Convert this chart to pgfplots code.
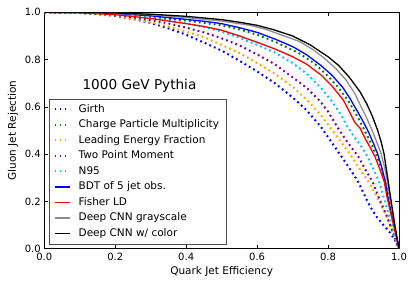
\documentclass[border=0pt]{standalone}
\usepackage{pgfplots}
\pgfplotsset{compat=1.18}
\usepackage{fontspec}
\setmainfont{DejaVu Sans}
\definecolor{mplgreen}{rgb}{0,0.5,0}
\definecolor{mplorange}{rgb}{1,0.647,0}
\definecolor{mplpurple}{rgb}{0.5,0,0.5}
\definecolor{mplsky}{rgb}{0,0.75,1}
\begin{document}
\begin{tikzpicture}
\path[use as bounding box] (-44.3pt,-38.3pt) rectangle (370.7pt,248.7pt);
\begin{axis}[
  scale only axis,
  width=354.7pt, height=236.4pt,
  xmin=0, xmax=1, ymin=0, ymax=1,
  xtick={0,0.2,0.4,0.6,0.8,1.0},
  ytick={0,0.2,0.4,0.6,0.8,1.0},
  /pgf/number format/assume math mode=true,
  /pgf/number format/.cd, fixed, fixed zerofill, precision=1,
  /pgfplots/.cd,
  tick align=inside,
  major tick length=4pt,
  tick style={black, line width=0.6pt},
  axis line style={line width=0.8pt},
  ticklabel style={font=\fontsize{10}{12}\selectfont},
  xticklabel style={yshift=-1pt},
  label style={font=\fontsize{10.5}{12}\selectfont},
  xlabel={Quark Jet Efficiency},
  ylabel={Gluon Jet Rejection},
  xlabel style={yshift=1pt},
  ylabel style={yshift=0pt},
  legend cell align=left,
  legend style={at={(0.014,0.0186)}, anchor=south west, draw=black!70, line width=0.8pt,
    font=\fontsize{10.5}{12}\selectfont, row sep=2.2pt, inner xsep=4pt, inner ysep=3.85pt,
    nodes={inner xsep=3.5pt, inner ysep=1.5pt, text height=7.8pt, text depth=2.5pt},
    /tikz/every odd column/.append style={column sep=4.5pt}},
  legend image code/.code={\draw[#1] (0pt,0pt) -- (15pt,0pt);},
  dotline/.style={line width=2pt, dash pattern=on 1.8pt off 3.2pt},
  solline/.style={line width=1.3pt},
]
\addplot[dotline, color=blue] coordinates {(0,1) (0.05,0.9995) (0.1,0.997) (0.15,0.992) (0.2,0.985) (0.25,0.972) (0.3,0.955) (0.35,0.932) (0.4,0.905) (0.45,0.872) (0.5,0.838) (0.55,0.795) (0.6,0.75) (0.65,0.70) (0.7,0.64) (0.74,0.585) (0.78,0.515) (0.81,0.45) (0.84,0.385) (0.865,0.33) (0.886,0.28) (0.90,0.235) (0.918,0.18) (0.937,0.135) (0.956,0.10) (0.975,0.068) (0.989,0.035) (1,0)};
\addlegendentry{Girth}
\addplot[dotline, color=mplgreen] coordinates {(0,1) (0.1,0.998) (0.2,0.993) (0.3,0.981) (0.4,0.965) (0.5,0.945) (0.55,0.928) (0.6,0.905) (0.65,0.876) (0.7,0.84) (0.72,0.825) (0.76,0.785) (0.8,0.73) (0.83,0.68) (0.855,0.63) (0.875,0.58) (0.893,0.53) (0.91,0.48) (0.926,0.43) (0.946,0.36) (0.958,0.30) (0.968,0.24) (0.975,0.19) (0.985,0.12) (0.993,0.06) (1,0)};
\addlegendentry{Charge Particle Multiplicity}
\addplot[dotline, color=mplorange] coordinates {(0,1) (0.1,0.997) (0.2,0.987) (0.3,0.958) (0.35,0.94) (0.4,0.918) (0.45,0.895) (0.5,0.862) (0.55,0.828) (0.6,0.785) (0.65,0.74) (0.7,0.685) (0.74,0.63) (0.78,0.565) (0.81,0.505) (0.84,0.445) (0.862,0.40) (0.89,0.335) (0.913,0.285) (0.93,0.24) (0.945,0.2) (0.965,0.135) (0.985,0.06) (1,0)};
\addlegendentry{Leading Energy Fraction}
\addplot[dotline, color=mplpurple] coordinates {(0,1) (0.1,0.998) (0.2,0.99) (0.3,0.967) (0.35,0.953) (0.4,0.935) (0.45,0.915) (0.5,0.89) (0.55,0.86) (0.6,0.822) (0.65,0.78) (0.7,0.725) (0.74,0.68) (0.777,0.625) (0.80,0.58) (0.828,0.51) (0.855,0.45) (0.885,0.39) (0.905,0.335) (0.923,0.29) (0.946,0.206) (0.965,0.14) (0.985,0.06) (1,0)};
\addlegendentry{Two Point Moment}
\addplot[dotline, color=mplsky] coordinates {(0,1) (0.1,0.999) (0.2,0.993) (0.3,0.977) (0.4,0.953) (0.45,0.938) (0.5,0.918) (0.55,0.893) (0.6,0.862) (0.65,0.83) (0.7,0.785) (0.74,0.74) (0.78,0.68) (0.81,0.625) (0.835,0.57) (0.853,0.52) (0.875,0.47) (0.895,0.43) (0.913,0.385) (0.93,0.33) (0.945,0.28) (0.958,0.21) (0.975,0.125) (0.99,0.05) (1,0)};
\addlegendentry{N95}
\addplot[solline, color=blue] coordinates {(0,1) (0.1,0.999) (0.2,0.995) (0.3,0.985) (0.4,0.97) (0.45,0.962) (0.5,0.952) (0.55,0.935) (0.6,0.915) (0.65,0.887) (0.7,0.855) (0.74,0.82) (0.78,0.775) (0.81,0.735) (0.84,0.685) (0.862,0.635) (0.885,0.575) (0.9,0.535) (0.915,0.49) (0.928,0.445) (0.94,0.40) (0.952,0.34) (0.962,0.28) (0.97,0.21) (0.98,0.14) (0.99,0.07) (1,0)};
\addlegendentry{BDT of 5 jet obs.}
\addplot[solline, color=red] coordinates {(0,1) (0.1,0.998) (0.2,0.99) (0.3,0.974) (0.4,0.952) (0.45,0.94) (0.5,0.924) (0.55,0.9) (0.6,0.873) (0.65,0.845) (0.7,0.812) (0.74,0.78) (0.78,0.735) (0.81,0.69) (0.843,0.629) (0.86,0.58) (0.875,0.535) (0.89,0.51) (0.905,0.465) (0.918,0.43) (0.932,0.39) (0.945,0.34) (0.958,0.285) (0.966,0.22) (0.975,0.16) (0.988,0.08) (1,0)};
\addlegendentry{Fisher LD}
\addplot[solline, color=black!45] coordinates {(0,1) (0.1,0.999) (0.2,0.996) (0.3,0.99) (0.4,0.978) (0.5,0.963) (0.58,0.945) (0.62,0.93) (0.664,0.907) (0.72,0.876) (0.76,0.84) (0.79,0.805) (0.82,0.765) (0.85,0.715) (0.876,0.655) (0.89,0.61) (0.905,0.565) (0.92,0.515) (0.935,0.46) (0.95,0.40) (0.96,0.34) (0.968,0.28) (0.975,0.21) (0.985,0.13) (0.994,0.05) (1,0)};
\addlegendentry{Deep CNN grayscale}
\addplot[solline, color=black] coordinates {(0,1) (0.1,0.999) (0.2,0.997) (0.3,0.992) (0.4,0.983) (0.5,0.969) (0.55,0.958) (0.6,0.945) (0.645,0.927) (0.7,0.9) (0.75,0.862) (0.8,0.812) (0.83,0.775) (0.86,0.725) (0.89,0.664) (0.91,0.61) (0.925,0.56) (0.94,0.5) (0.95,0.45) (0.958,0.40) (0.965,0.33) (0.972,0.26) (0.978,0.2) (0.988,0.1) (0.995,0.04) (1,0)};
\addlegendentry{Deep CNN w/ color}
\node[anchor=west, font=\fontsize{13.6}{16}\selectfont] at (axis cs:0.098,0.688) {1000 GeV Pythia};
\end{axis}
\end{tikzpicture}
\end{document}
